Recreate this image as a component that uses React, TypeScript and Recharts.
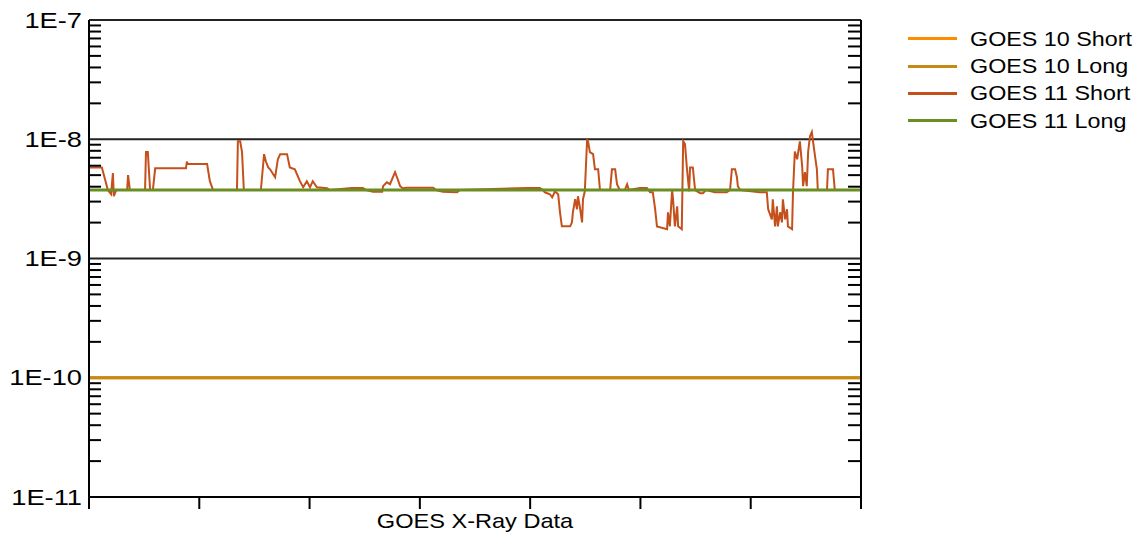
import { CartesianGrid, Legend, Line, LineChart, XAxis, YAxis } from "recharts";

// GOES 11 short channel, hours since start of window
const hours = [
  0, 2.8, 3.5, 4.1, 4.8, 5.2, 5.4, 5.9, 8.3, 8.5, 8.9, 12.2, 12.4, 12.8, 13.3, 13.9, 14.4, 21.1, 21.3, 21.5,
  25.7, 26.3, 27.0, 32.2, 32.4, 32.9, 33.3, 33.7, 37.4, 38.1, 38.5, 39.0, 39.4, 40.5, 41.1, 41.6, 43.1, 43.7,
  44.8, 45.9, 46.6, 47.4, 48.1, 48.7, 49.6, 51.8, 52.4, 57.2, 59.6, 60.3, 61.8, 63.8, 64.0, 64.8, 65.5, 66.6,
  67.2, 67.7, 68.3, 69.2, 74.9, 75.5, 77.0, 80.1, 80.7, 95.5, 98.1, 98.8, 99.2, 100.3, 100.8, 101.4, 102.1,
  102.5, 102.9, 104.7, 105.1, 105.3, 105.8, 106.2, 106.4, 106.8, 107.3, 107.5, 107.9, 108.4, 108.6, 109.0,
  109.7, 110.1, 110.8, 111.2, 113.4, 113.8, 114.5, 114.9, 115.5, 116.6, 117.1, 117.5, 119.9, 121.4, 122.1,
  122.7, 123.2, 123.6, 125.8, 126.0, 126.4, 126.9, 127.1, 127.5, 128.0, 128.2, 129.0, 129.3, 129.7, 130.1,
  130.6, 130.8, 131.4, 131.9, 133.0, 133.6, 134.3, 136.2, 138.8, 139.5, 139.9, 140.6, 141.0, 141.2, 141.7,
  146.0, 147.5, 147.8, 148.6, 148.8, 149.3, 149.7, 149.9, 150.4, 150.8, 151.0, 151.5, 151.9, 152.1, 153.0,
  153.2, 153.6, 154.1, 154.7, 155.2, 155.4, 155.8, 156.2, 156.5, 156.9, 157.3, 157.5, 158.0, 158.4, 158.6,
  160.6, 160.8, 161.9, 162.3, 163.4,
];
const goes11Short = [
  5.8e-9, 5.8e-9, 4.6e-9, 3.75e-9, 3.46e-9, 5.2e-9, 3.33e-9, 3.75e-9, 3.75e-9, 5.0e-9, 3.75e-9, 3.75e-9,
  7.8e-9, 7.8e-9, 3.75e-9, 3.75e-9, 5.7e-9, 5.7e-9, 6.5e-9, 6.2e-9, 6.2e-9, 4.45e-9, 3.75e-9, 3.75e-9,
  9.6e-9, 9.6e-9, 7.8e-9, 3.75e-9, 3.75e-9, 7.5e-9, 6.5e-9, 5.8e-9, 5.6e-9, 4.8e-9, 6.8e-9, 7.5e-9, 7.5e-9,
  5.8e-9, 5.6e-9, 4.45e-9, 3.96e-9, 4.45e-9, 3.96e-9, 4.45e-9, 3.96e-9, 3.88e-9, 3.75e-9, 3.9e-9, 3.9e-9,
  3.75e-9, 3.62e-9, 3.62e-9, 4.04e-9, 4.36e-9, 4.2e-9, 5.3e-9, 4.6e-9, 4.04e-9, 3.88e-9, 3.92e-9, 3.92e-9,
  3.75e-9, 3.62e-9, 3.6e-9, 3.75e-9, 3.9e-9, 3.9e-9, 3.75e-9, 3.59e-9, 3.46e-9, 3.26e-9, 3.66e-9, 3.46e-9,
  2.44e-9, 1.86e-9, 1.86e-9, 2.01e-9, 2.44e-9, 3.14e-9, 2.59e-9, 3.33e-9, 2.74e-9, 2.01e-9, 3.14e-9,
  3.66e-9, 1.0e-8, 9.6e-9, 7.8e-9, 7.5e-9, 5.6e-9, 5.6e-9, 3.75e-9, 3.75e-9, 5.6e-9, 5.6e-9, 4.2e-9,
  3.75e-9, 3.75e-9, 4.2e-9, 3.75e-9, 3.9e-9, 3.9e-9, 3.59e-9, 3.59e-9, 2.59e-9, 1.86e-9, 1.76e-9, 2.44e-9,
  1.86e-9, 3.75e-9, 3.14e-9, 1.86e-9, 2.74e-9, 1.86e-9, 1.76e-9, 9.6e-9, 9.1e-9, 5.8e-9, 3.66e-9, 5.8e-9,
  5.8e-9, 3.75e-9, 3.53e-9, 3.53e-9, 3.75e-9, 3.59e-9, 3.59e-9, 3.75e-9, 5.6e-9, 5.6e-9, 4.8e-9, 4.04e-9,
  3.75e-9, 3.59e-9, 3.59e-9, 2.59e-9, 2.13e-9, 3.14e-9, 1.86e-9, 2.74e-9, 1.86e-9, 2.44e-9, 2.01e-9,
  3.14e-9, 2.13e-9, 2.59e-9, 1.86e-9, 1.76e-9, 3.59e-9, 7.9e-9, 6.8e-9, 9.6e-9, 5.9e-9, 4.04e-9, 5.3e-9,
  4.04e-9, 7.9e-9, 1.06e-8, 1.15e-8, 1.0e-8, 7.2e-9, 5.6e-9, 3.75e-9, 3.75e-9, 5.6e-9, 5.6e-9, 3.75e-9,
  3.75e-9,
];

// flat channels
const flatHours = [0, 168];
const goes10Short = [1e-10, 1e-10];
const goes10Long = [1e-10, 1e-10];
const goes11Long = [3.75e-9, 3.75e-9];

const xTicks = [0, 24, 48, 72, 96, 120, 144, 168];
const yDecades = [1e-11, 1e-10, 1e-9, 1e-8, 1e-7];
const yTickLabels = ["1E-11", "1E-10", "1E-9", "1E-8", "1E-7"];
const minorSteps = [2, 3, 4, 5, 6, 7, 8, 9];

const seriesNames = ["GOES 10 Short", "GOES 10 Long", "GOES 11 Short", "GOES 11 Long"];
const seriesColors = ["#FF8C00", "#C48A14", "#C4501C", "#6B8E23"];

const FONT = "'Liberation Sans', Arial, sans-serif";

const toPoints = (ts: number[], vs: number[]) => ts.map((t, i) => ({ t, v: vs[i] }));

const yTicks = [
  ...yDecades,
  ...yDecades.slice(0, -1).flatMap((d) => minorSteps.map((m) => m * d)),
].sort((a, b) => a - b);

const decadeIndex = (v: number) => yDecades.findIndex((d) => Math.abs(v - d) / d < 1e-6);

function LeftTick({ x, y, payload }: any) {
  const idx = decadeIndex(payload.value);
  if (idx >= 0) {
    return (
      <text
        transform={`translate(${x - 7},${y}) scale(1.24,1)`}
        textAnchor="end"
        dominantBaseline="central"
        fontSize={22}
        fontFamily={FONT}
        fill="#000"
      >
        {yTickLabels[idx]}
      </text>
    );
  }
  return <line x1={x} x2={x + 12} y1={y} y2={y} stroke="#000" strokeWidth={2} />;
}

function RightTick({ x, y, payload }: any) {
  if (decadeIndex(payload.value) >= 0) return <g />;
  return <line x1={x} x2={x - 13} y1={y} y2={y} stroke="#000" strokeWidth={2} />;
}

function AxisTitle({ viewBox }: any) {
  const cx = viewBox.x + viewBox.width / 2;
  return (
    <text
      transform={`translate(${cx},${viewBox.y + 31}) scale(1.15,1)`}
      textAnchor="middle"
      fontSize={20.5}
      fontFamily={FONT}
      fill="#000"
    >
      GOES X-Ray Data
    </text>
  );
}

function LegendList() {
  return (
    <div style={{ fontFamily: FONT, fontSize: 21, color: "#000" }}>
      {seriesNames.map((name, i) => (
        <div key={name} style={{ display: "flex", alignItems: "center", height: 27.4 }}>
          <span style={{ width: 49, height: 3, background: seriesColors[i], marginRight: 13 }} />
          <span style={{ display: "inline-block", transform: "scaleX(1.11)", transformOrigin: "left center", whiteSpace: "nowrap" }}>
            {name}
          </span>
        </div>
      ))}
    </div>
  );
}

export default function App() {
  const series = [
    toPoints(flatHours, goes10Short),
    toPoints(flatHours, goes10Long),
    toPoints(hours, goes11Short),
    toPoints(flatHours, goes11Long),
  ];
  return (
    <div style={{ position: "absolute", left: 0, top: 0, background: "#fff" }}>
      <LineChart width={1140} height={536} margin={{ top: 20, right: 278, bottom: 0, left: 0 }}>
        <CartesianGrid
          vertical={false}
          horizontalValues={yDecades}
          stroke="#222"
          strokeWidth={1.8}
          yAxisId="l"
        />
        <XAxis
          dataKey="t"
          type="number"
          domain={[0, 168]}
          ticks={xTicks}
          allowDataOverflow
          height={39}
          interval={0}
          tickSize={12}
          tickFormatter={() => ""}
          axisLine={{ stroke: "#000", strokeWidth: 2 }}
          tickLine={{ stroke: "#000", strokeWidth: 2 }}
          label={<AxisTitle />}
        />
        <YAxis
          yAxisId="l"
          type="number"
          scale="log"
          domain={[1e-11, 1e-7]}
          allowDataOverflow
          ticks={yTicks}
          interval={0}
          width={89}
          tickSize={0}
          tickMargin={0}
          tickLine={false}
          axisLine={{ stroke: "#000", strokeWidth: 2 }}
          tick={(p: any) => <LeftTick {...p} />}
        />
        <YAxis
          yAxisId="r"
          orientation="right"
          type="number"
          scale="log"
          domain={[1e-11, 1e-7]}
          allowDataOverflow
          ticks={yTicks}
          interval={0}
          width={1}
          tickSize={0}
          tickMargin={0}
          tickLine={false}
          axisLine={{ stroke: "#000", strokeWidth: 2 }}
          tick={(p: any) => <RightTick {...p} />}
        />
        <Legend
          layout="horizontal"
          verticalAlign="middle"
          align="center"
          wrapperStyle={{ top: 25, left: 908, width: 232 }}
          content={() => <LegendList />}
        />
        {series.map((pts, i) => (
          <Line
            key={seriesNames[i]}
            data={pts}
            dataKey="v"
            name={seriesNames[i]}
            yAxisId={i === 3 ? "r" : "l"}
            type="linear"
            stroke={seriesColors[i]}
            strokeWidth={i === 2 ? 2 : 3}
            dot={false}
            activeDot={false}
            isAnimationActive={false}
          />
        ))}
      </LineChart>
    </div>
  );
}
